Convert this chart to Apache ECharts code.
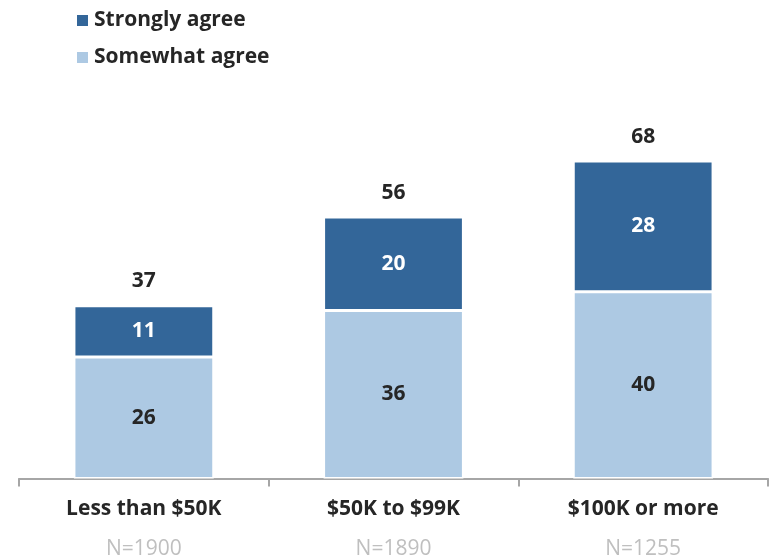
<!DOCTYPE html>
<html><head><meta charset="utf-8">
<script src="https://cdn.jsdelivr.net/npm/echarts@6/dist/echarts.min.js"></script>
<style>html,body{margin:0;padding:0;background:#fff}#c{width:773px;height:560px}</style>
</head><body><div id="c"></div>
<script>
const categories = ['Less than $50K', '$50K to $99K', '$100K or more'];
const sampleSizes = ['N=1900', 'N=1890', 'N=1255'];
const somewhatAgree = [26, 36, 40];
const stronglyAgree = [11, 20, 28];
const totals = [37, 56, 68];

const FONT = '"Open Sans", sans-serif';
const chart = echarts.init(document.getElementById('c'));
chart.setOption({
  animation: false,
  textStyle: { fontFamily: FONT },
  legend: {
    orient: 'vertical', left: 70, top: 5, itemWidth: 13, itemHeight: 13, itemGap: 16,
    icon: 'rect',
    textStyle: { fontSize: 21, fontWeight: 'bold', color: '#262626', fontFamily: FONT },
    data: ['Strongly agree', 'Somewhat agree']
  },
  grid: { left: 19, right: 5, top: 105, bottom: 79 },
  xAxis: {
    type: 'category', data: categories.map((c, i) => c + '\n' + sampleSizes[i]),
    axisLine: { lineStyle: { color: '#A6A6A6', width: 2 } },
    axisTick: { show: true, length: 8, lineStyle: { color: '#A6A6A6', width: 2 } },
    axisLabel: {
      margin: 11,
      formatter: v => { const p = v.split('\n'); return '{a|' + p[0] + '}\n{b|' + p[1] + '}'; },
      rich: {
        a: { fontSize: 21, fontWeight: 'bold', color: '#262626', lineHeight: 40, fontFamily: FONT },
        b: { fontSize: 21, color: '#BFBFBF', lineHeight: 40, fontFamily: FONT }
      }
    }
  },
  yAxis: { type: 'value', min: 0, max: 80, show: false, splitLine: { show: false } },
  series: [
    {
      name: 'Somewhat agree', type: 'bar', stack: 's', barWidth: '56%', data: somewhatAgree,
      itemStyle: { color: '#ADC9E3', borderColor: '#fff', borderWidth: 1.5 },
      label: { show: true, position: 'inside', fontSize: 21, fontWeight: 'bold', color: '#262626', fontFamily: FONT }
    },
    {
      name: 'Strongly agree', type: 'bar', stack: 's', data: stronglyAgree,
      itemStyle: { color: '#336699', borderColor: '#fff', borderWidth: 1.5 },
      label: { show: true, position: 'inside', fontSize: 21, fontWeight: 'bold', color: '#fff', fontFamily: FONT }
    },
    {
      name: 'Total', type: 'bar', stack: 's', data: totals.map(() => 0),
      itemStyle: { color: 'transparent' },
      label: { show: true, position: 'top', distance: 14, fontSize: 21, fontWeight: 'bold', color: '#262626', fontFamily: FONT,
        formatter: p => totals[p.dataIndex] }
    }
  ]
});
</script></body></html>
